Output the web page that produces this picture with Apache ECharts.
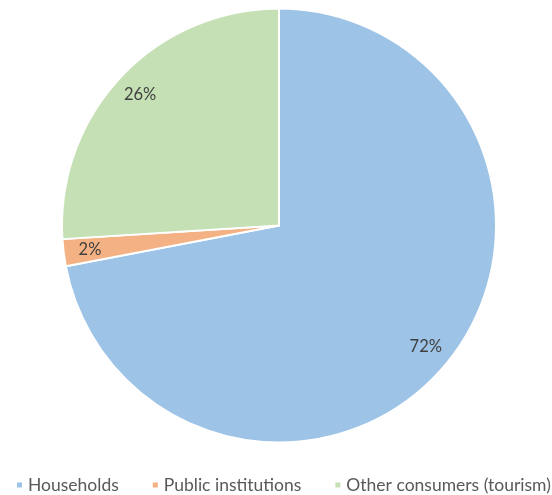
<!DOCTYPE html>
<html>
<head>
<meta charset="utf-8">
<style>
  html, body { margin: 0; padding: 0; background: #ffffff; }
  #chart { width: 552px; height: 495px; }
</style>
<script src="https://cdn.jsdelivr.net/npm/echarts@6/dist/echarts.min.js"></script>
</head>
<body>
<div id="chart"></div>
<script>
// Consumer groups and their share of consumption (%)
const categories = ['Households', 'Public institutions', 'Other consumers (tourism)'];
const shares = [72, 2, 26];
const colors = ['#9DC3E6', '#F4B183', '#C5E0B4'];

const chart = echarts.init(document.getElementById('chart'));

const slices = categories.map((name, i) => ({ name, value: shares[i], itemStyle: { color: colors[i] } }));

chart.setOption({
  animation: false,
  textStyle: { fontFamily: 'Lato' },
  legend: {
    type: 'plain',
    orient: 'horizontal',
    top: 471,
    left: 10,
    width: 600,
    padding: [5, 0, 5, 5],
    icon: 'rect',
    itemWidth: 7,
    itemHeight: 7,
    itemGap: 32,
    textStyle: { fontFamily: 'Lato', fontSize: 17.5, color: '#595959' },
    data: categories
  },
  series: [
    {
      type: 'pie',
      center: [279, 225.5],
      radius: 217,
      startAngle: 90,
      clockwise: true,
      silent: true,
      itemStyle: { borderColor: '#ffffff', borderWidth: 2 },
      label: { show: false },
      labelLine: { show: false },
      data: slices
    },
    {
      // transparent ring that carries the percentage labels near the rim
      type: 'pie',
      center: [279, 225.5],
      radius: [158, 217],
      startAngle: 90,
      clockwise: true,
      silent: true,
      itemStyle: { color: 'rgba(0,0,0,0)', borderWidth: 0 },
      label: {
        show: true,
        position: 'inside',
        formatter: '{c}%',
        fontFamily: 'Lato',
        fontSize: 16.5,
        color: '#404040'
      },
      labelLine: { show: false },
      legendHoverLink: false,
      data: categories.map((name, i) => ({ name: name + ' ', value: shares[i] }))
    }
  ]
});
</script>
</body>
</html>
